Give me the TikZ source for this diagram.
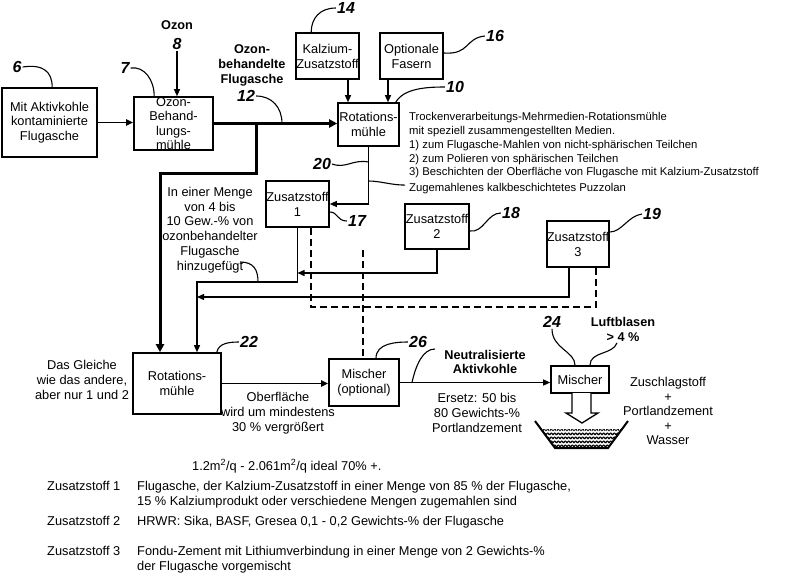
\documentclass[tikz,border=0pt]{standalone}
\usepackage{fontspec}
\setmainfont{Liberation Sans}
\usetikzlibrary{arrows.meta,calc}
\begin{document}
\begin{tikzpicture}[x=1pt,y=-1pt,
 box/.style={draw,line width=1.6pt,inner sep=0pt},
 txt/.style={align=center,font=\fontsize{12.8}{14.6}\selectfont,inner sep=0pt},
 btxt/.style={align=center,font=\fontsize{12.7}{14.8}\selectfont\bfseries,inner sep=0pt},
 num/.style={font=\fontsize{16}{16}\selectfont\bfseries\itshape,inner sep=1pt},
 ln/.style={line width=1.2pt},
 arr/.style={line width=1.3pt,-{Triangle[length=7pt,width=6pt]}},
 tarr/.style={line width=3pt,line join=miter,-{Triangle[length=8pt,width=8pt]}},
 dsh/.style={line width=1.5pt,dash pattern=on 7pt off 4pt},
 lead/.style={line width=1.1pt},
]
\fill[white] (0,0) rectangle (800,574);
\useasboundingbox (0,0) rectangle (800,574);

% ---- boxes
\node[box,minimum width=95pt,minimum height=69pt] (b1) at (49.5,122.5) {};
\node[txt] at (b1) {Mit Aktivkohle\\kontaminierte\\Flugasche};
\node[box,minimum width=79pt,minimum height=53pt] (b2) at (173.5,123.5) {};
\node[txt,font=\fontsize{12.8}{14.3}\selectfont] at (b2) {Ozon-\\Behand-\\lungs-\\mühle};
\node[box,minimum width=61pt,minimum height=43pt] (r1) at (368.5,124.5) {};
\node[txt,font=\fontsize{12.8}{15}\selectfont] at (r1) {Rotations-\\mühle};
\node[box,minimum width=63pt,minimum height=46pt] (k) at (327.5,56) {};
\node[txt,font=\fontsize{12.8}{15}\selectfont] at (k) {Kalzium-\\Zusatzstoff};
\node[box,minimum width=63pt,minimum height=46pt] (f) at (411.5,56) {};
\node[txt,font=\fontsize{12.8}{15}\selectfont] at (f) {Optionale\\Fasern};
\node[box,minimum width=63pt,minimum height=46pt] (z1) at (297.5,204) {};
\node[txt,font=\fontsize{12.8}{15}\selectfont] at (z1) {Zusatzstoff\\1};
\node[box,minimum width=64pt,minimum height=45pt] (z2) at (437,226.5) {};
\node[txt,font=\fontsize{12.8}{15}\selectfont] at (z2) {Zusatzstoff\\2};
\node[box,minimum width=62pt,minimum height=46pt] (z3) at (578,244) {};
\node[txt,font=\fontsize{12.8}{15}\selectfont] at (z3) {Zusatzstoff\\3};
\node[box,minimum width=88pt,minimum height=61pt] (r22) at (177,383.5) {};
\node[txt] at (r22) {Rotations-\\mühle};
\node[box,minimum width=70pt,minimum height=47pt] (mo) at (364,382.5) {};
\node[txt] at (mo) {Mischer\\(optional)};
\node[box,minimum width=58pt,minimum height=27pt] (m24) at (580,379.5) {};
\node[txt] at (m24) {Mischer};

% ---- reference numbers
\node[num] (n6) at (17,67) {6};
\node[num] (n7) at (125,68) {7};
\node[num] (n8) at (177,44) {8};
\node[num] (n12) at (246,96) {12};
\node[num] (n14) at (346,8) {14};
\node[num] (n16) at (495,36) {16};
\node[num] (n10) at (455,87) {10};
\node[num] (n20) at (322,164) {20};
\node[num] (n17) at (357,221) {17};
\node[num] (n18) at (511,213) {18};
\node[num] (n19) at (652,214) {19};
\node[num] (n22) at (249,342) {22};
\node[num] (n26) at (418,342) {26};
\node[num] (n24) at (552,322) {24};

% ---- texts
\node[btxt] (oz) at (177,25) {Ozon};
\node[btxt] (obf) at (252,65.5) {Ozon-\\behandelte\\Flugasche};
\node[anchor=north west,align=left,inner sep=0pt,font=\fontsize{11.3}{13.9}\selectfont] (desc) at (409,112) {Trockenverarbeitungs-Mehrmedien-Rotationsmühle\\mit speziell zusammengestellten Medien.\\1) zum Flugasche-Mahlen von nicht-sphärischen Teilchen\\2) zum Polieren von sphärischen Teilchen\\3) Beschichten der Oberfläche von Flugasche mit Kalzium-Zusatzstoff};
\node[anchor=base west,inner sep=0pt,font=\fontsize{11.3}{13.9}\selectfont] (zug) at (409,191) {Zugemahlenes kalkbeschichtetes Puzzolan};
\node[txt,font=\fontsize{12.8}{14.8}\selectfont] (menge) at (210,230) {In einer Menge\\von 4 bis\\10 Gew.-\% von\\ozonbehandelter\\Flugasche\\hinzugefügt};
\node[txt,font=\fontsize{12.8}{15}\selectfont] (gleich) at (82,380) {Das Gleiche\\wie das andere,\\aber nur 1 und 2};
\node[txt,font=\fontsize{12.8}{15}\selectfont] (ober) at (278,413) {Oberfläche\\wird um mindestens\\30 \% vergrößert};
\node[btxt,font=\fontsize{12.7}{14}\selectfont\bfseries] (neut) at (485,362) {Neutralisierte\\Aktivkohle};
\node[txt,font=\fontsize{12.8}{15}\selectfont] (ers) at (477,413) {Ersetz: 50 bis\\80 Gewichts-\%\\Portlandzement};
\node[btxt,font=\fontsize{12.7}{15}\selectfont\bfseries] (luft) at (623,329.5) {Luftblasen\\> 4 \%};
\node[txt,font=\fontsize{12.8}{14.5}\selectfont] (zus) at (668,411) {Zuschlagstoff\\+\\Portlandzement\\+\\Wasser};

\node[txt,anchor=base west] (ideal) at (192,470) {1.2m\textsuperscript{2}/q - 2.061m\textsuperscript{2}/q ideal 70\% +.};
\node[txt,anchor=base west] (l1) at (47,490.5) {Zusatzstoff 1};
\node[txt,anchor=base west] (d1a) at (137,490.5) {Flugasche, der Kalzium-Zusatzstoff in einer Menge von 85 \% der Flugasche,};
\node[txt,anchor=base west] (d1b) at (137,505.5) {15 \% Kalziumprodukt oder verschiedene Mengen zugemahlen sind};
\node[txt,anchor=base west] (l2) at (47,525.5) {Zusatzstoff 2};
\node[txt,anchor=base west] (d2) at (137,525.5) {HRWR: Sika, BASF, Gresea 0,1 - 0,2 Gewichts-\% der Flugasche};
\node[txt,anchor=base west] (l3) at (47,555.5) {Zusatzstoff 3};
\node[txt,anchor=base west] (d3a) at (137,555.5) {Fondu-Zement mit Lithiumverbindung in einer Menge von 2 Gewichts-\%};
\node[txt,anchor=base west] (d3b) at (137,570.5) {der Flugasche vorgemischt};

% ---- coordinates
\coordinate (xa) at (348,0);
\coordinate (xb) at (388,0);
\coordinate (j1) at (256,123.5);
\coordinate (j12) at (282,123.5);
\coordinate (t22) at ($(r22.north)+(-17,0)$);
\coordinate (t22b) at ($(r22.north)+(20,0)$);
\coordinate (c282) at (197,282);
\coordinate (c273) at (297.5,273);
\coordinate (c297) at (197,297);
\coordinate (xd) at (311,0);
\coordinate (dtop) at (363,250);
\coordinate (j20) at (368.5,162);
\coordinate (jz) at (368.5,181);
\coordinate (hz) at (240,262);
\coordinate (hl) at (258,282);
\coordinate (jn) at (412,382.5);
\coordinate (jn2) at (435,349);

% ---- connectors
\draw[arr,line width=1.8pt] (b1.east) -- (b1.east -| b2.west);
\draw[arr] (n8.south) -- (n8.south |- b2.north);
\draw[tarr] (b2.east) -- (b2.east -| r1.west);
\draw[tarr] (j1) -- (256,173) -| (t22);
\draw[arr] (k.south -| xa) -- (r1.north -| xa);
\draw[arr] (f.south -| xb) -- (r1.north -| xb);
\draw[arr] (r1.south) |- (z1.east);
\draw[arr] (z1.south) |- (c282) -- (t22b);
\draw[arr] (z2.south) |- (c273);
\draw[arr] ($(z3.south)+(-9,0)$) |- (c297);
\draw[dsh] ($(z3.south)+(18,0)$) -- ++(0,39) -| (z1.south -| xd);
\draw[dsh] (dtop) -- (dtop |- mo.north);
\draw[arr,line width=1.8pt] (r22.east) -- (r22.east -| mo.west);
\draw[arr] (mo.east) -- (mo.east -| m24.west);

% ---- leaders
\draw[lead] (n6.east) .. controls +(20,-3) and +(0,-16) .. ($(b1.north west)+(51,0)$);
\draw[lead] (n7.east) .. controls +(14,-2) and +(0,-16) .. ($(b2.north west)+(21,0)$);
\draw[lead] (n12.east) .. controls +(16,0) and +(0,-16) .. (j12);
\draw[lead] (n14.west) .. controls +(-16,0) and +(0,-14) .. ($(k.north west)+(16,0)$);
\draw[lead] ($(f.east)+(0,-3)$) .. controls +(26,2) and +(-20,2) .. (n16.west);
\draw[lead] ($(r1.north east)+(-4,0)$) .. controls +(8,-14) and +(-18,0) .. (n10.west);
\draw[lead] (n20.east) .. controls +(14,5) and +(-16,-3) .. (j20);
\draw[lead] (jz) .. controls +(12,0) and +(-14,0) .. ($(zug.west)+(-4,-3)$);
\draw[lead] ($(z1.east)+(0,8)$) .. controls +(8,0) and +(-10,0) .. (n17.west);
\draw[lead] ($(z2.east)+(0,4.5)$) .. controls +(14,2) and +(-14,0) .. (n18.west);
\draw[lead] ($(z3.east)+(0,-12)$) .. controls +(12,0) and +(-14,2) .. (n19.west);
\draw[lead] (hz) .. controls +(14,0) and +(0,-12) .. (hl);
\draw[lead] ($(r22.north east)+(-5,0)$) .. controls +(2,-9) and +(-10,0) .. (n22.west);
\draw[lead] ($(mo.north)+(12,0)$) .. controls +(0,-15) and +(-12,0) .. (n26.west);
\draw[lead] (jn) .. controls +(4,-18) and +(-12,0) .. (jn2);
\draw[lead] (n24.south) .. controls +(0,20) and +(0,-14) .. ($(m24.north)+(-5,0)$);
\draw[lead] ($(luft.south)+(-6,1)$) .. controls +(-4,12) and +(0,-14) .. ($(m24.north)+(10,0)$);

% ---- hollow arrow and bowl
\draw[line width=1.3pt,fill=white,line join=miter] (572,393) -- (572,413) -- (566,413) -- (582,423) -- (598,413) -- (591,413) -- (591,393);
\begin{scope}
\clip (540,429) -- (554,447) -- (609,447) -- (623,429) -- cycle;
\foreach \yy in {431,435,439,443,447} {
  \foreach \xx in {536,539.5,...,626} {
    \draw[line width=0.8pt] (\xx,\yy) .. controls +(0.8,-2.8) and +(-0.8,-2.8) .. +(2.5,0);
    \draw[line width=0.8pt] (\xx+1.8,\yy+2) .. controls +(0.8,2.3) and +(-0.8,2.3) .. +(2.5,0);
  }
}
\end{scope}
\draw[line width=2pt,line join=miter] (535,421) -- (555,448) -- (608,448) -- (628,421);
\end{tikzpicture}
\end{document}
